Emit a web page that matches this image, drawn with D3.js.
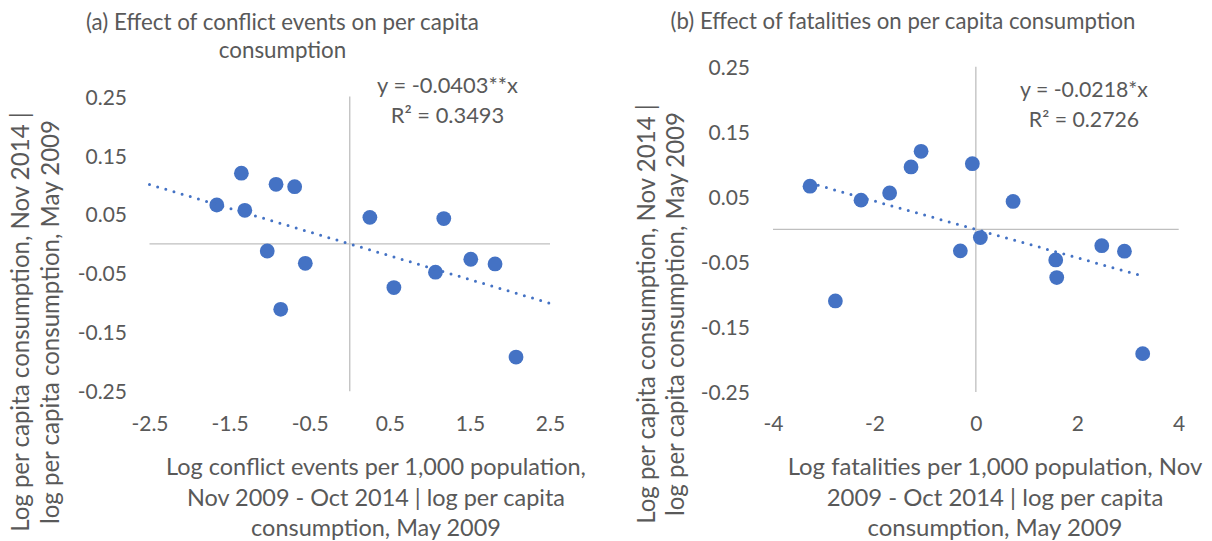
<!DOCTYPE html>
<html><head><meta charset="utf-8">
<script src="https://cdn.jsdelivr.net/npm/d3@7"></script>
<style>
body{margin:0;background:#fff}
svg text{font-family:Lato, "Open Sans", sans-serif; fill:#595959}
</style>
</head><body>
<svg id="c" width="1212" height="541"></svg>
<script>
// ---- Data ----
const conflictX = [-1.66, -1.353, -1.31, -0.92, -0.688, -1.03, -0.555, -0.862, 0.251, 1.174, 0.551, 1.07, 1.511, 1.814, 2.076];
const conflictY = [0.066, 0.120, 0.057, 0.101, 0.097, -0.012, -0.033, -0.111, 0.045, 0.043, -0.074, -0.048, -0.026, -0.034, -0.192];
const fatalX = [-3.27, -2.77, -2.264, -1.70, -1.278, -1.08, -0.069, -0.306, 0.089, 0.734, 1.575, 1.595, 2.483, 2.93, 3.29];
const fatalY = [0.0665, -0.110, 0.045, 0.056, 0.096, 0.120, 0.101, -0.033, -0.0125, 0.043, -0.047, -0.074, -0.025, -0.0335, -0.191];
const slopeA = -0.0403, slopeB = -0.0218;
const trendRangeA = [-2.5, 2.5], trendRangeB = [-3.27, 3.29];
const xTicksA = [-2.5, -1.5, -0.5, 0.5, 1.5, 2.5];
const xTicksB = [-4, -2, 0, 2, 4];
const yTicks = [0.25, 0.15, 0.05, -0.05, -0.15, -0.25];
const titleA = ["(a) Effect of conflict events on per capita", "consumption"];
const titleB = ["(b) Effect of fatalities on per capita consumption"];
const xTitleA = ["Log conflict events per 1,000 population,", "Nov 2009 - Oct 2014 | log per capita", "consumption, May 2009"];
const xTitleB = ["Log fatalities per 1,000 population, Nov", "2009 - Oct 2014 | log per capita", "consumption, May 2009"];
const yTitle = ["Log per capita consumption, Nov 2014 |", "log per capita consumption, May 2009"];
const eqA = ["y = -0.0403**x", "R² = 0.3493"];
const eqB = ["y = -0.0218*x", "R² = 0.2726"];

const svg = d3.select("#c");
const BLUE = "#4472C4", GRID = "#BFBFBF";

// set font-size so that text width matches target width
function fitText(sel, targetW) {
  sel.style("font-size", "100px");
  const w = sel.node().getComputedTextLength();
  const fs = 100 * targetW / w;
  sel.style("font-size", fs + "px");
  return fs;
}

const panels = [
  { xs: conflictX, ys: conflictY, slope: slopeA, trend: trendRangeA,
    xDom: [-2.5, 2.5], xRange: [149.5, 550], yRange: [391.3, 96.5], xTicks: xTicksA,
    yLabelRight: 127, xLabelY: 423,
    title: titleA, titleCx: 282.5, titleBase: [29.5, 57.5], titleW: 393,
    xTitle: xTitleA, xTitleCx: 376, xTitleW: 420,
    yTitleCy: 322, yTitleBase: [29, 58.5], yTitleW: 420,
    eq: eqA, eqCx: 447.5, eqBase: [92.5, 123], eqW: 141 },
  { xs: fatalX, ys: fatalY, slope: slopeB, trend: trendRangeB,
    xDom: [-4, 4], xRange: [773, 1178.7], yRange: [392, 66.8], xTicks: xTicksB,
    yLabelRight: 750, xLabelY: 423,
    title: titleB, titleCx: 903, titleBase: [28.5], titleW: 465,
    xTitle: xTitleB, xTitleCx: 995, xTitleW: 415,
    yTitleCy: 314, yTitleBase: [655, 684], yTitleW: 420,
    eq: eqB, eqCx: 1084, eqBase: [96.5, 127], eqW: 128 }
];

panels.forEach(p => {
  const x = d3.scaleLinear().domain(p.xDom).range(p.xRange);
  const y = d3.scaleLinear().domain([-0.25, 0.25]).range(p.yRange);
  const g = svg.append("g");

  // crossing axis lines at zero
  g.append("line").attr("x1", x(p.xDom[0])).attr("x2", x(p.xDom[1]))
    .attr("y1", y(0)).attr("y2", y(0)).attr("stroke", GRID).attr("stroke-width", 1.3);
  g.append("line").attr("x1", x(0)).attr("x2", x(0))
    .attr("y1", y(-0.25)).attr("y2", y(0.25)).attr("stroke", GRID).attr("stroke-width", 1.3);

  // tick labels via d3 axes (low position)
  const ax = g.append("g").attr("transform", `translate(0,${p.xLabelY})`)
    .call(d3.axisBottom(x).tickValues(p.xTicks).tickSize(0).tickPadding(0).tickFormat(d => String(d)));
  const ay = g.append("g").attr("transform", `translate(${p.yLabelRight},0)`)
    .call(d3.axisLeft(y).tickValues(yTicks).tickSize(0).tickPadding(0).tickFormat(d => String(d)));
  [ax, ay].forEach(a => {
    a.select(".domain").remove();
    a.selectAll("text").attr("fill", "#595959").attr("font-family", null)
      .style("font-size", "21px").attr("dy", "0.36em");
  });

  // points
  const pts = p.xs.map((v, i) => [v, p.ys[i]]);
  g.selectAll("circle").data(pts).join("circle")
    .attr("cx", d => x(d[0])).attr("cy", d => y(d[1])).attr("r", 7.4).attr("fill", BLUE);

  // trendline (dotted)
  const tl = p.trend.map(v => [v, p.slope * v]);
  g.append("path").attr("d", d3.line().x(d => x(d[0])).y(d => y(d[1]))(tl))
    .attr("fill", "none").attr("stroke", BLUE).attr("stroke-width", 3)
    .attr("stroke-linecap", "round").attr("stroke-dasharray", "0 8.5");

  // equation
  let eqFs;
  p.eq.forEach((s, i) => {
    const t = g.append("text").attr("x", p.eqCx).attr("y", p.eqBase[i]).attr("text-anchor", "middle").text(s);
    if (i === 0) eqFs = fitText(t, p.eqW); else t.style("font-size", eqFs + "px");
  });

  // title
  let tFs;
  p.title.forEach((s, i) => {
    const t = svg.append("text").attr("x", p.titleCx).attr("y", p.titleBase[i]).attr("text-anchor", "middle").text(s);
    if (i === 0) tFs = fitText(t, p.titleW); else t.style("font-size", tFs + "px");
  });

  // x title
  let xFs;
  p.xTitle.forEach((s, i) => {
    const t = svg.append("text").attr("x", p.xTitleCx).attr("y", 475 + 30.5 * i).attr("text-anchor", "middle").text(s);
    if (i === 0) xFs = fitText(t, p.xTitleW); else t.style("font-size", xFs + "px");
  });

  // y title
  const yg = svg.append("g").attr("transform", `translate(0,${p.yTitleCy}) rotate(-90)`);
  let yFs;
  yTitle.forEach((s, i) => {
    const t = yg.append("text").attr("x", 0).attr("y", p.yTitleBase[i]).attr("text-anchor", "middle").text(s);
    if (i === 0) yFs = fitText(t, p.yTitleW); else t.style("font-size", yFs + "px");
  });
});
</script>
</body></html>
